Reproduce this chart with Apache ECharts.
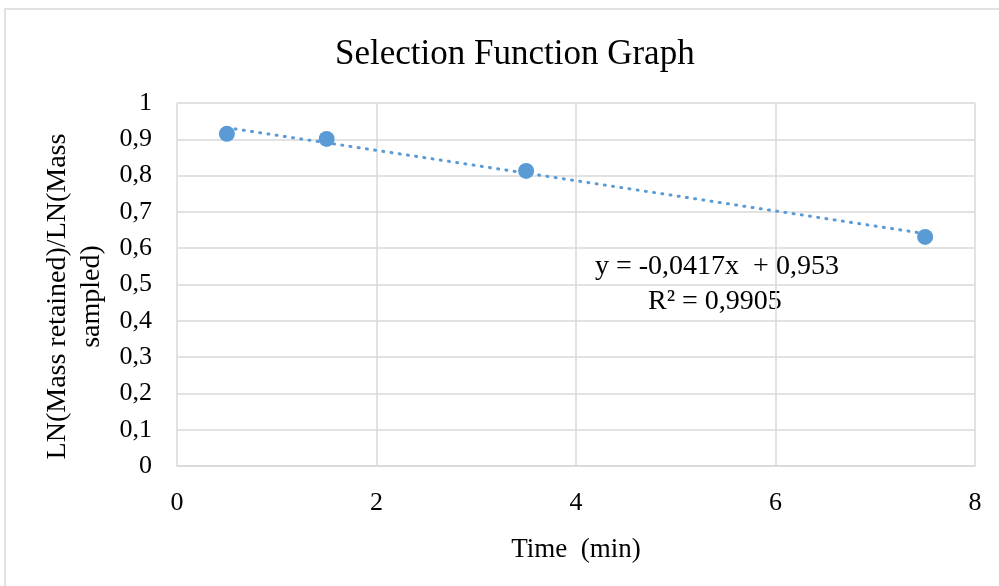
<!DOCTYPE html>
<html>
<head>
<meta charset="utf-8">
<script src="https://cdn.jsdelivr.net/npm/echarts@6/dist/echarts.min.js"></script>
<style>html,body{margin:0;padding:0;background:#fff}#c{width:999px;height:586px}</style>
</head>
<body>
<div id="c"></div>
<script>
const timeX = [0.5, 1.5, 3.5, 7.5];
const ratioY = [0.915, 0.901, 0.813, 0.631];
const trendX = [0.5, 7.5];
const trendY = [0.932, 0.640];
const xTicks = [0, 2, 4, 6, 8];
const yTicks = [0, 0.1, 0.2, 0.3, 0.4, 0.5, 0.6, 0.7, 0.8, 0.9, 1];
const eqText = 'y = -0,0417x  + 0,953';
const r2Text = 'R² = 0,9905';

const font = 'Liberation Serif';
const chart = echarts.init(document.getElementById('c'));
chart.setOption({
  animation: false,
  title: {
    text: 'Selection Function Graph', left: 330, top: 32,
    textStyle: { fontFamily: font, fontSize: 35, fontWeight: 'normal', color: '#000' }
  },
  grid: { left: 177, right: 24, top: 103, bottom: 120, containLabel: false },
  xAxis: {
    type: 'value', min: xTicks[0], max: xTicks[xTicks.length - 1], interval: 2,
    name: 'Time  (min)', nameLocation: 'middle', nameGap: 70,
    nameTextStyle: { fontFamily: font, fontSize: 27, color: '#000' },
    axisLine: { show: true, lineStyle: { color: '#d9d9d9', width: 1.5 } },
    axisTick: { show: false },
    axisLabel: { fontFamily: font, fontSize: 26, color: '#000', margin: 24 },
    splitLine: { show: true, lineStyle: { color: '#d9d9d9', width: 1.5 } }
  },
  yAxis: {
    type: 'value', min: yTicks[0], max: yTicks[yTicks.length - 1], interval: 0.1,
    name: 'LN(Mass retained)/LN(Mass\nsampled)', nameLocation: 'middle', nameGap: 64,
    nameTextStyle: { fontFamily: font, fontSize: 28, color: '#000', lineHeight: 34,
      padding: [0, 24, 0, 0] },
    axisLine: { show: false },
    axisTick: { show: false },
    axisLabel: { fontFamily: font, fontSize: 26, color: '#000', margin: 25,
      formatter: v => String(Math.round(v * 10) / 10).replace('.', ',') },
    splitLine: { show: true, lineStyle: { color: '#d9d9d9', width: 1.5 } }
  },
  graphic: [
    { type: 'rect', shape: { x: 5, y: 9, width: 1100, height: 700 },
      style: { fill: 'none', stroke: '#d9d9d9', lineWidth: 1.5 }, silent: true, z: -1 },
    { type: 'text', left: 595, top: 253,
      style: { text: eqText, fontFamily: font, fontSize: 28, fill: '#000' } },
    { type: 'text', left: 648, top: 288,
      style: { text: r2Text, fontFamily: font, fontSize: 28, fill: '#000' } }
  ],
  series: [
    {
      type: 'line', data: trendX.map((x, i) => [x, trendY[i]]),
      showSymbol: false, symbol: 'none',
      lineStyle: { color: '#5b9bd5', width: 3, type: [1, 7.3], cap: 'round' }, z: 2
    },
    {
      type: 'scatter', data: timeX.map((x, i) => [x, ratioY[i]]),
      symbol: 'circle', symbolSize: 16,
      itemStyle: { color: '#5b9bd5', opacity: 1 }, z: 3
    }
  ]
});
</script>
</body>
</html>
